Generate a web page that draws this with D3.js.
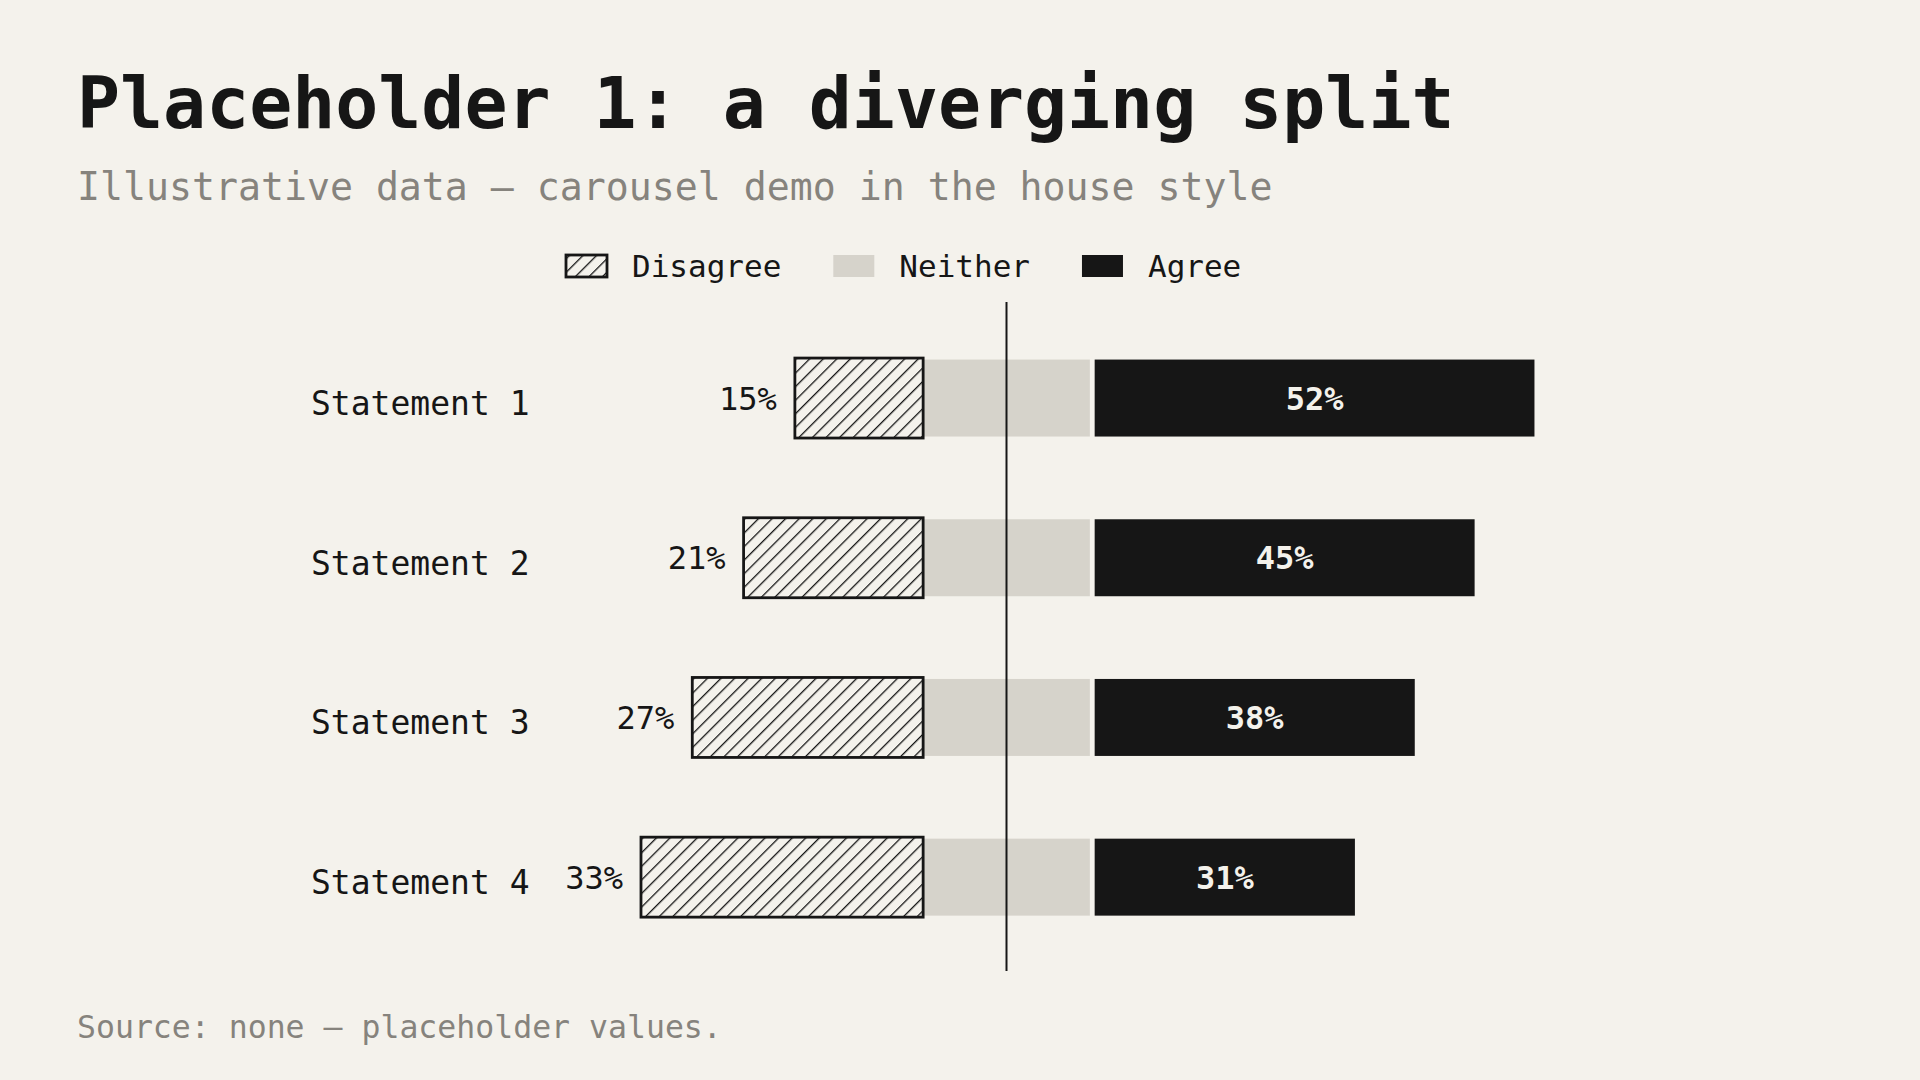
<!DOCTYPE html>
<html>
<head>
<meta charset="utf-8">
<script src="https://cdn.jsdelivr.net/npm/d3@7"></script>
<style>
  html, body { margin: 0; padding: 0; background: #f4f2ec; }
  svg { display: block; }
  text { font-family: "DejaVu Sans Mono", "Liberation Mono", monospace; }
</style>
</head>
<body>
<svg id="chart" width="1920" height="1080"></svg>
<script>
// ---- data ----
const categories = ["Statement 1", "Statement 2", "Statement 3", "Statement 4"];
const disagree = [15, 21, 27, 33];
const neither = [19.5, 19.5, 19.5, 19.5];
const agree = [52, 45, 38, 31];
const seriesNames = ["Disagree", "Neither", "Agree"];
const titleText = "Placeholder 1: a diverging split";
const subtitleText = "Illustrative data \u2014 carousel demo in the house style";
const sourceText = "Source: none \u2014 placeholder values.";

// ---- style ----
const BG = "#f4f2ec", INK = "#161616", NEUTRAL = "#d6d3cb", GREY = "#86837d";

const svg = d3.select("#chart");
svg.append("rect").attr("width", 1920).attr("height", 1080).attr("fill", BG);

const defs = svg.append("defs");
const pat = defs.append("pattern")
  .attr("id", "hatch")
  .attr("patternUnits", "userSpaceOnUse")
  .attr("width", 9.6).attr("height", 9.6)
  .attr("patternTransform", "rotate(45)");
pat.append("rect").attr("width", 9.6).attr("height", 9.6).attr("fill", BG);
pat.append("line").attr("x1", 0).attr("y1", 0).attr("x2", 0).attr("y2", 9.6)
  .attr("stroke", INK).attr("stroke-width", 2.6);

// ---- scales ----
const center = 1006.5, k = 8.55;
const x = d3.scaleLinear().domain([-60, 60]).range([center - 60 * k, center + 60 * k]);
const y = d3.scaleBand().domain(categories).range([318.2, 957]).paddingInner(0.518).paddingOuter(0.259);
const bw = y.bandwidth();
const gap = 4.8;

const rows = categories.map((c, i) => ({ c, d: disagree[i], n: neither[i], a: agree[i] }));

// ---- title etc ----
svg.append("text").attr("x", 77).attr("y", 128)
  .attr("font-size", 71.5).attr("font-weight", 700).attr("fill", INK)
  .text(titleText);
svg.append("text").attr("x", 77).attr("y", 200)
  .attr("font-size", 38.2).attr("fill", GREY)
  .text(subtitleText);
svg.append("text").attr("x", 77).attr("y", 1038)
  .attr("font-size", 31.5).attr("fill", GREY)
  .text(sourceText);

// ---- legend ----
const legend = svg.append("g");
const fills = ["url(#hatch)", NEUTRAL, INK];
let lx = 566;
seriesNames.forEach((name, i) => {
  const g = legend.append("g").attr("transform", `translate(${lx},0)`);
  const r = g.append("rect").attr("x", 0).attr("y", 255).attr("width", 41).attr("height", 22)
    .attr("fill", fills[i]);
  if (i === 0) r.attr("stroke", INK).attr("stroke-width", 2.8);
  const t = g.append("text").attr("x", 66).attr("y", 266).attr("dy", "0.35em")
    .attr("font-size", 31).attr("fill", INK).text(name);
  lx += 66 + t.node().getComputedTextLength() + 52;
});

// ---- neither ----
svg.append("g").selectAll("rect").data(rows).join("rect")
  .attr("x", d => x(-d.n / 2))
  .attr("y", d => y(d.c))
  .attr("width", d => x(d.n / 2) - x(-d.n / 2))
  .attr("height", bw)
  .attr("fill", NEUTRAL);

// ---- disagree ----
svg.append("g").selectAll("rect").data(rows).join("rect")
  .attr("x", d => x(-d.n / 2 - d.d))
  .attr("y", d => y(d.c) - 1.5)
  .attr("width", d => x(-d.n / 2) - x(-d.n / 2 - d.d))
  .attr("height", bw + 3)
  .attr("fill", "url(#hatch)")
  .attr("stroke", INK).attr("stroke-width", 2.8);

// ---- agree ----
svg.append("g").selectAll("rect").data(rows).join("rect")
  .attr("x", d => x(d.n / 2) + gap)
  .attr("y", d => y(d.c))
  .attr("width", d => x(d.n / 2 + d.a) - x(d.n / 2) - gap)
  .attr("height", bw)
  .attr("fill", INK);

// ---- center line ----
svg.append("line").attr("x1", x(0)).attr("x2", x(0)).attr("y1", 302).attr("y2", 971)
  .attr("stroke", INK).attr("stroke-width", 2);

// ---- category labels ----
svg.append("g").selectAll("text").data(rows).join("text")
  .attr("x", 311).attr("y", d => y(d.c) + bw / 2).attr("dy", 17)
  .attr("font-size", 33).attr("fill", INK)
  .text(d => d.c);

// ---- disagree values ----
svg.append("g").selectAll("text").data(rows).join("text")
  .attr("x", d => x(-d.n / 2 - d.d) - 18).attr("y", d => y(d.c) + bw / 2).attr("dy", "0.36em")
  .attr("text-anchor", "end")
  .attr("font-size", 32).attr("fill", INK)
  .text(d => d.d + "%");

// ---- agree values ----
svg.append("g").selectAll("text").data(rows).join("text")
  .attr("x", d => (x(d.n / 2) + gap + x(d.n / 2 + d.a)) / 2)
  .attr("y", d => y(d.c) + bw / 2).attr("dy", "0.36em")
  .attr("text-anchor", "middle")
  .attr("font-size", 32).attr("font-weight", 700).attr("fill", BG)
  .text(d => d.a + "%");
</script>
</body>
</html>
